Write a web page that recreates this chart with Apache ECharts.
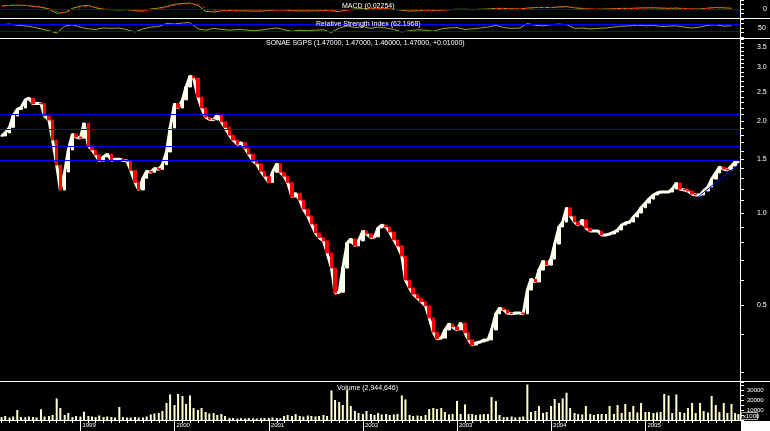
<!DOCTYPE html>
<html><head><meta charset="utf-8">
<script src="https://cdn.jsdelivr.net/npm/echarts@6/dist/echarts.min.js"></script>
<style>html,body{margin:0;padding:0;background:#000}#c{width:770px;height:431px}</style>
</head><body><div id="c"></div>
<script>
// ---------- data ----------
const dates = [
'1998-03-01','1998-03-15','1998-04-01','1998-04-15','1998-05-01','1998-05-15','1998-06-01','1998-06-15','1998-07-01','1998-07-15','1998-08-01','1998-08-15','1998-09-01','1998-09-15','1998-10-01','1998-10-15','1998-11-01','1998-11-15','1998-12-01','1998-12-15',
'1999-01-01','1999-01-15','1999-02-01','1999-02-15','1999-03-01','1999-03-15','1999-04-01','1999-04-15','1999-05-01','1999-05-15','1999-06-01','1999-06-15','1999-07-01','1999-07-15','1999-08-01','1999-08-15','1999-09-01','1999-09-15','1999-10-01','1999-10-15','1999-11-01','1999-11-15','1999-12-01','1999-12-15',
'2000-01-01','2000-01-15','2000-02-01','2000-02-15','2000-03-01','2000-03-15','2000-04-01','2000-04-15','2000-05-01','2000-05-15','2000-06-01','2000-06-15','2000-07-01','2000-07-15','2000-08-01','2000-08-15','2000-09-01','2000-09-15','2000-10-01','2000-10-15','2000-11-01','2000-11-15','2000-12-01','2000-12-15',
'2001-01-01','2001-01-15','2001-02-01','2001-02-15','2001-03-01','2001-03-15','2001-04-01','2001-04-15','2001-05-01','2001-05-15','2001-06-01','2001-06-15','2001-07-01','2001-07-15','2001-08-01','2001-08-15','2001-09-01','2001-09-15','2001-10-01','2001-10-15','2001-11-01','2001-11-15','2001-12-01','2001-12-15',
'2002-01-01','2002-01-15','2002-02-01','2002-02-15','2002-03-01','2002-03-15','2002-04-01','2002-04-15','2002-05-01','2002-05-15','2002-06-01','2002-06-15','2002-07-01','2002-07-15','2002-08-01','2002-08-15','2002-09-01','2002-09-15','2002-10-01','2002-10-15','2002-11-01','2002-11-15','2002-12-01','2002-12-15',
'2003-01-01','2003-01-15','2003-02-01','2003-02-15','2003-03-01','2003-03-15','2003-04-01','2003-04-15','2003-05-01','2003-05-15','2003-06-01','2003-06-15','2003-07-01','2003-07-15','2003-08-01','2003-08-15','2003-09-01','2003-09-15','2003-10-01','2003-10-15','2003-11-01','2003-11-15','2003-12-01','2003-12-15',
'2004-01-01','2004-01-15','2004-02-01','2004-02-15','2004-03-01','2004-03-15','2004-04-01','2004-04-15','2004-05-01','2004-05-15','2004-06-01','2004-06-15','2004-07-01','2004-07-15','2004-08-01','2004-08-15','2004-09-01','2004-09-15','2004-10-01','2004-10-15','2004-11-01','2004-11-15','2004-12-01','2004-12-15',
'2005-01-01','2005-01-15','2005-02-01','2005-02-15','2005-03-01','2005-03-15','2005-04-01','2005-04-15','2005-05-01','2005-05-15','2005-06-01','2005-06-15','2005-07-01','2005-07-15','2005-08-01','2005-08-15','2005-09-01','2005-09-15','2005-10-01','2005-10-15','2005-11-01','2005-11-15','2005-12-01','2005-12-15','2005-12-28'
];
const closes = [
1.79,1.83,1.91,2.08,2.19,2.21,2.35,2.38,2.28,2.29,2.28,2.08,2.02,1.735,1.436,1.19,1.363,1.61,1.815,1.775,
1.76,1.97,1.66,1.61,1.55,1.48,1.53,1.56,1.49,1.50,1.50,1.49,1.48,1.38,1.26,1.19,1.30,1.37,1.36,1.40,1.39,1.44,1.585,1.90,
2.28,2.21,2.35,2.59,2.81,2.77,2.40,2.21,2.06,2.03,2.02,2.10,1.99,1.91,1.80,1.735,1.68,1.70,1.63,1.56,1.48,1.45,1.37,1.32,
1.26,1.36,1.45,1.36,1.32,1.26,1.128,1.16,1.103,1.03,0.978,0.92,0.86,0.83,0.81,0.74,0.66,0.547,0.55,0.66,0.797,0.822,0.78,0.81,
0.873,0.854,0.83,0.835,0.893,0.913,0.90,0.866,0.816,0.78,0.723,0.603,0.568,0.542,0.526,0.512,0.496,0.453,0.407,0.387,0.389,0.4135,0.433,0.423,
0.4135,0.436,0.405,0.3835,0.369,0.375,0.378,0.3835,0.3835,0.4135,0.467,0.488,0.481,0.47,0.467,0.47,0.47,0.467,0.559,0.607,0.594,0.65,0.696,0.675,
0.706,0.791,0.90,0.934,1.04,0.978,0.934,0.913,0.949,0.893,0.873,0.873,0.873,0.847,0.847,0.854,0.866,0.88,0.913,0.927,0.934,0.97,1.0,1.04,
1.078,1.111,1.146,1.163,1.172,1.172,1.172,1.198,1.254,1.198,1.19,1.181,1.154,1.146,1.146,1.181,1.217,1.292,1.353,1.415,1.394,1.384,1.426,1.47,1.47
];
const volumes = [
3000,4000,2500,3500,10000,3000,2800,3500,3000,2500,10700,3500,4000,5000,21600,12000,5000,7000,3000,4000,
3500,8300,4000,3500,3000,4500,3000,3500,3000,2500,13000,3000,2500,2500,3000,2500,2500,3500,5500,6500,7000,9000,17000,25600,
15000,26000,24000,16000,24600,12000,10000,12000,8000,6500,7000,5000,6000,4000,2000,2000,1500,1800,1500,2000,1700,1500,1800,2000,
2000,2500,2000,1800,4000,5000,4000,6000,4000,3500,4500,4000,3500,4000,5000,4000,29600,20000,18000,15000,30000,14000,9000,7000,
6000,9000,6000,5000,7000,5500,6000,5000,5500,6000,24600,20600,5000,4000,4500,4000,5000,11000,12000,11000,12000,8000,5500,6000,
19000,6000,15600,6000,6000,5000,5500,6000,6000,23000,19000,5000,3000,3000,3500,2500,3000,3500,35500,8000,9000,14000,7000,8000,
14000,21000,17000,21600,27300,12000,7000,6000,5500,14000,6000,5000,6000,6000,6000,14000,6000,15000,7000,16000,8000,14000,7500,17000,
8000,8000,7000,7500,8000,26000,24500,7000,25500,8000,7000,12000,17000,7000,17000,9000,7500,24000,15000,8000,17000,7000,16000,7000,6000
];
const monthDates = [
'1998-03-01','1998-04-01','1998-05-01','1998-06-01','1998-07-01','1998-08-01','1998-09-01','1998-10-01','1998-11-01','1998-12-01',
'1999-01-01','1999-02-01','1999-03-01','1999-04-01','1999-05-01','1999-06-01','1999-07-01','1999-08-01','1999-09-01','1999-10-01','1999-11-01','1999-12-01',
'2000-01-01','2000-02-01','2000-03-01','2000-04-01','2000-05-01','2000-06-01','2000-07-01','2000-08-01','2000-09-01','2000-10-01','2000-11-01','2000-12-01',
'2001-01-01','2001-02-01','2001-03-01','2001-04-01','2001-05-01','2001-06-01','2001-07-01','2001-08-01','2001-09-01','2001-10-01','2001-11-01','2001-12-01',
'2002-01-01','2002-02-01','2002-03-01','2002-04-01','2002-05-01','2002-06-01','2002-07-01','2002-08-01','2002-09-01','2002-10-01','2002-11-01','2002-12-01',
'2003-01-01','2003-02-01','2003-03-01','2003-04-01','2003-05-01','2003-06-01','2003-07-01','2003-08-01','2003-09-01','2003-10-01','2003-11-01','2003-12-01',
'2004-01-01','2004-02-01','2004-03-01','2004-04-01','2004-05-01','2004-06-01','2004-07-01','2004-08-01','2004-09-01','2004-10-01','2004-11-01','2004-12-01',
'2005-01-01','2005-02-01','2005-03-01','2005-04-01','2005-05-01','2005-06-01','2005-07-01','2005-08-01','2005-09-01','2005-10-01','2005-11-01','2005-12-01'
];
const macd = [
0.10,0.12,0.13,0.12,0.09,0.06,0.0,-0.14,-0.12,0.02,
0.10,0.12,0.04,-0.01,-0.02,-0.03,-0.02,-0.06,-0.07,0.0,0.03,0.08,
0.16,0.18,0.20,0.12,-0.08,-0.10,-0.06,-0.05,-0.06,-0.06,-0.07,-0.07,
-0.05,-0.03,-0.03,-0.06,-0.06,-0.06,-0.06,-0.05,-0.06,-0.09,-0.03,0.0,
0.02,0.01,0.01,0.01,-0.01,-0.04,-0.07,-0.06,-0.04,-0.05,-0.04,-0.02,
-0.01,-0.01,-0.02,-0.01,0.0,0.02,0.02,0.01,0.0,0.03,0.05,0.05,
0.05,0.07,0.08,0.04,0.01,0.0,-0.01,0.0,0.01,0.02,0.02,0.03,
0.04,0.04,0.03,0.02,0.03,0.01,0.0,0.0,0.03,0.05,0.04,0.023
];
const macdSignal = [
0.09,0.11,0.12,0.12,0.10,0.07,0.02,-0.08,-0.12,-0.04,
0.05,0.10,0.07,0.01,-0.01,-0.02,-0.02,-0.04,-0.06,-0.03,0.01,0.05,
0.12,0.16,0.18,0.16,0.02,-0.06,-0.06,-0.05,-0.05,-0.06,-0.06,-0.07,
-0.06,-0.04,-0.03,-0.05,-0.06,-0.06,-0.06,-0.05,-0.05,-0.07,-0.05,-0.02,
0.0,0.01,0.01,0.01,0.0,-0.02,-0.05,-0.06,-0.05,-0.05,-0.04,-0.03,
-0.02,-0.01,-0.01,-0.01,-0.01,0.01,0.02,0.01,0.01,0.02,0.04,0.05,
0.05,0.06,0.07,0.05,0.03,0.01,0.0,0.0,0.0,0.01,0.02,0.02,
0.03,0.04,0.03,0.03,0.03,0.02,0.01,0.0,0.02,0.04,0.04,0.03
];
const rsi = [
68,72,65,62,55,45,35,22,60,68,
55,45,42,50,48,50,40,28,45,55,58,75,
72,78,80,45,38,48,42,38,42,40,35,38,
45,50,40,32,38,35,38,40,25,50,62,52,
58,48,55,50,42,28,35,40,38,32,45,50,
52,42,45,50,55,65,52,48,50,75,65,62,
68,72,68,48,50,45,48,50,55,60,62,65,
62,65,58,60,62,55,50,55,65,68,60,62.2
];
const priceTickValues = [0.3,0.4,0.5,0.6,0.7,0.8,0.9,1.0,1.1,1.2,1.3,1.4,1.5,1.6,1.7,1.8,1.9,2.0,2.1,2.2,2.3,2.4,2.5,2.6,2.7,2.8,2.9,3.0,3.1,3.2,3.3,3.4,3.5,3.6,3.7];
const priceLabelValues = [0.5,1.0,1.5,2.0,2.5,3.0,3.5];
const yearTicks = ['1999-01-01','2000-01-01','2001-01-01','2002-01-01','2003-01-01','2004-01-01','2005-01-01'];
const volumeLabelValues = [10000,20000,30000];
const hLevels = [2.10,1.88,1.655,1.49];
const trendDates = ['2005-07-24','2005-12-28'];
const trendValues = [1.13,1.44];
const macdLevels = [0];
const rsiLevels = [70,30];
const texts = {
  macd: 'MACD (0.02254)',
  rsi: 'Relative Strength Index (62.1968)',
  price: 'SONAE SGPS (1.47000, 1.47000, 1.46000, 1.47000, +0.01000)',
  volume: 'Volume (2,944,646)',
  unit: 'x1000'
};

// ---------- chart ----------
const FONT = 'Liberation Sans, Arial, sans-serif';
const WHITE = '#ffffff', UP = '#fffff0', DOWN = '#ff0000', BLUE = '#0000ff', OLIVE = '#a3a32a';
const ts = d => new Date(d + 'T00:00:00Z').getTime();
const xMin = ts('1998-02-23'), xMax = ts('2006-01-03');

const candles = dates.map((d, i) => {
  const c = closes[i];
  const o = i === 0 ? c : closes[i - 1];
  return [ts(d), o, c, Math.min(o, c), Math.max(o, c)];
});

const hiddenX = g => ({ type: 'value', gridIndex: g, min: xMin, max: xMax, show: false, splitLine: { show: false } });
const axisLineW = { show: true, lineStyle: { color: WHITE, width: 1 } };
const lbl = (extra) => Object.assign({ color: WHITE, fontSize: 7, fontFamily: FONT }, extra);
const mark = (vals, color) => ({
  silent: true, symbol: 'none', animation: false, label: { show: false },
  lineStyle: { color: color, width: 1, type: 'solid' },
  data: vals.map(v => ({ yAxis: v }))
});

const chart = echarts.init(document.getElementById('c'));
chart.setOption({
  backgroundColor: '#000',
  animation: false,
  title: [
    { text: texts.macd, left: 342, top: 3, padding: 0, textStyle: { color: WHITE, fontSize: 7, fontWeight: 'normal', fontFamily: FONT } },
    { text: texts.rsi, left: 316, top: 21, padding: 0, textStyle: { color: WHITE, fontSize: 7, fontWeight: 'normal', fontFamily: FONT } },
    { text: texts.price, left: 266, top: 40, padding: 0, textStyle: { color: WHITE, fontSize: 7, fontWeight: 'normal', fontFamily: FONT } },
    { text: texts.volume, left: 337, top: 385, padding: 0, textStyle: { color: WHITE, fontSize: 7, fontWeight: 'normal', fontFamily: FONT } }
  ],
  grid: [
    { left: 0, width: 740, top: 0, height: 18 },
    { left: 0, width: 740, top: 19, height: 18 },
    { left: 0, width: 740, top: 39, height: 342 },
    { left: 0, width: 740, top: 382, height: 38 }
  ],
  xAxis: [
    hiddenX(0), hiddenX(1), hiddenX(2),
    { type: 'value', gridIndex: 3, min: xMin, max: xMax, position: 'bottom',
      axisLine: axisLineW, splitLine: { show: false },
      axisTick: { show: true, customValues: monthDates.map(ts), length: 3, lineStyle: { color: WHITE } },
      axisLabel: { show: false } },
    { type: 'value', gridIndex: 3, min: xMin, max: xMax, position: 'bottom', offset: 0,
      axisLine: { show: false }, splitLine: { show: false },
      axisTick: { show: true, customValues: yearTicks.map(ts), length: 11, lineStyle: { color: WHITE } },
      axisLabel: lbl({ customValues: yearTicks.map(ts), fontSize: 6, align: 'left', margin: 2, padding: [0, 0, 0, 2],
        formatter: v => String(new Date(v).getUTCFullYear()) }) }
  ],
  yAxis: [
    { type: 'value', gridIndex: 0, position: 'right', min: -0.3, max: 0.3, interval: 0.15,
      axisLine: axisLineW, splitLine: { show: false },
      axisTick: { show: true, length: 4, lineStyle: { color: WHITE } },
      axisLabel: lbl({ customValues: [0], margin: 23, formatter: v => String(v) }) },
    { type: 'value', gridIndex: 1, position: 'right', min: 0, max: 100, interval: 25,
      axisLine: axisLineW, splitLine: { show: false },
      axisTick: { show: true, length: 4, lineStyle: { color: WHITE } },
      axisLabel: lbl({ customValues: [50], margin: 18, formatter: v => String(v) }) },
    { type: 'log', logBase: 10, gridIndex: 2, position: 'right', min: 0.2813, max: 3.72,
      axisLine: axisLineW, splitLine: { show: false },
      axisTick: { show: true, customValues: priceTickValues, length: 4, lineStyle: { color: WHITE } },
      axisLabel: lbl({ customValues: priceLabelValues, margin: 17, formatter: v => Number(v).toFixed(1) }) },
    { type: 'value', gridIndex: 3, position: 'right', min: 0, max: 38000, interval: 5000,
      axisLine: axisLineW, splitLine: { show: false },
      axisTick: { show: true, length: 4, lineStyle: { color: WHITE } },
      axisLabel: lbl({ customValues: volumeLabelValues, fontSize: 6, margin: 7, formatter: v => String(v) }) }
  ],
  series: [
    { type: 'line', xAxisIndex: 0, yAxisIndex: 0, data: monthDates.map((d, i) => [ts(d), macd[i]]),
      showSymbol: false, lineStyle: { color: OLIVE, width: 1 }, markLine: mark(macdLevels, BLUE), z: 3 },
    { type: 'line', xAxisIndex: 0, yAxisIndex: 0, data: monthDates.map((d, i) => [ts(d), macdSignal[i]]),
      showSymbol: false, lineStyle: { color: DOWN, width: 1, type: [3, 3] }, z: 4 },
    { type: 'line', xAxisIndex: 1, yAxisIndex: 1, data: monthDates.map((d, i) => [ts(d), rsi[i]]),
      showSymbol: false, lineStyle: { color: OLIVE, width: 1 }, markLine: mark(rsiLevels, BLUE), z: 3 },
    { type: 'line', xAxisIndex: 2, yAxisIndex: 2, data: dates.map((d, i) => [ts(d), closes[i]]),
      showSymbol: false, lineStyle: { color: UP, width: 3 }, markLine: mark(hLevels, BLUE), z: 3 },
    { type: 'candlestick', xAxisIndex: 2, yAxisIndex: 2, data: candles, barWidth: 3, z: 4,
      itemStyle: { color: UP, color0: DOWN, borderColor: UP, borderColor0: DOWN, borderWidth: 1 } },
    { type: 'line', xAxisIndex: 2, yAxisIndex: 2, data: trendDates.map((d, i) => [ts(d), trendValues[i]]),
      showSymbol: false, lineStyle: { color: BLUE, width: 1 }, z: 5 },
    { type: 'bar', xAxisIndex: 3, yAxisIndex: 3, data: dates.map((d, i) => [ts(d), volumes[i]]),
      barWidth: 2, itemStyle: { color: '#ffffd0' } }
  ],
  graphic: [
    { type: 'line', shape: { x1: 0, y1: 18.5, x2: 770, y2: 18.5 }, style: { stroke: WHITE, lineWidth: 1 } },
    { type: 'line', shape: { x1: 0, y1: 38.5, x2: 770, y2: 38.5 }, style: { stroke: WHITE, lineWidth: 1 } },
    { type: 'line', shape: { x1: 0, y1: 381.5, x2: 770, y2: 381.5 }, style: { stroke: WHITE, lineWidth: 1 } },
    { type: 'line', shape: { x1: 740.5, y1: 0, x2: 740.5, y2: 421 }, style: { stroke: WHITE, lineWidth: 1 } },
    { type: 'rect', shape: { x: 741, y: 421, width: 29, height: 10 }, style: { fill: WHITE } },
    { type: 'rect', shape: { x: 741.5, y: 412.5, width: 16, height: 7 }, style: { fill: '#000', stroke: '#aaaaaa', lineWidth: 1 } },
    { type: 'text', x: 743, y: 413, style: { text: texts.unit, fill: WHITE, font: '6px ' + FONT } }
  ]
});
</script>
</body></html>
